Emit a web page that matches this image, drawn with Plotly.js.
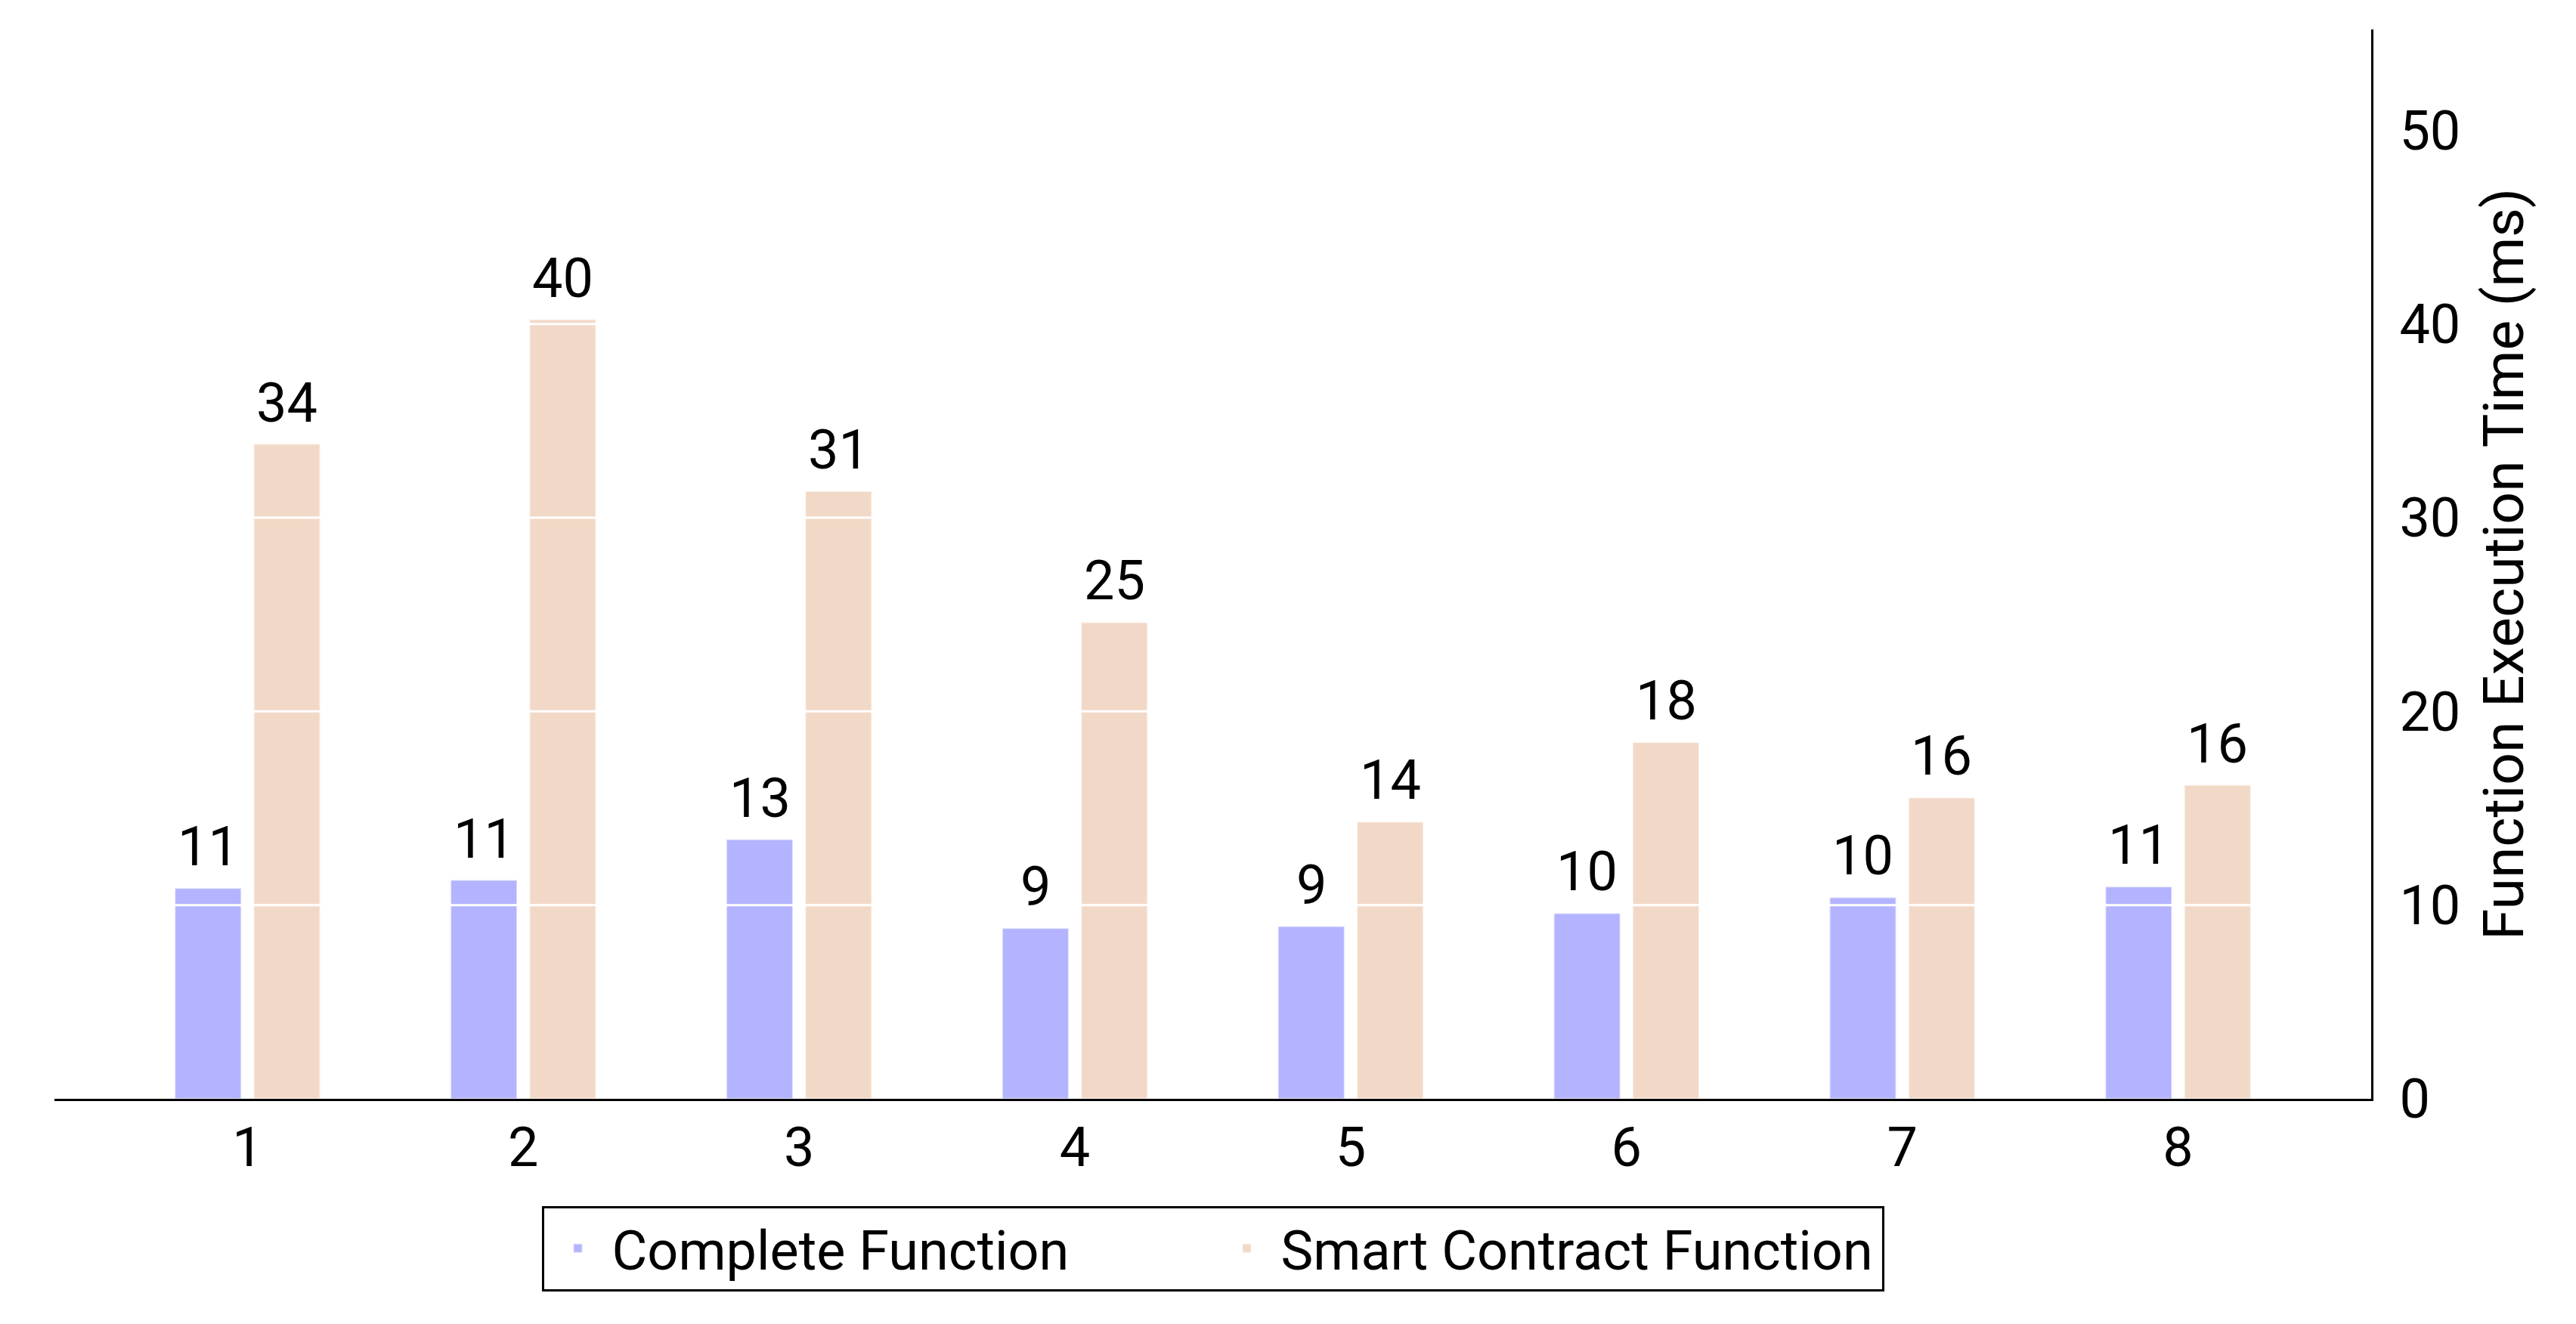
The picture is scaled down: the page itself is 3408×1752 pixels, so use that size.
<!DOCTYPE html>
<html>
<head>
<meta charset="utf-8">
<script src="https://cdn.plot.ly/plotly-3.0.1.min.js"></script>
<style>html,body{margin:0;padding:0;background:#fff;}#chart{width:3408px;height:1752px;}</style>
</head>
<body>
<div id="chart"></div>
<script>
const categories = [1, 2, 3, 4, 5, 6, 7, 8];
const completeFunction = [10.87, 11.29, 13.39, 8.81, 8.9, 9.58, 10.4, 10.95];
const smartContractFunction = [33.8, 40.23, 31.36, 24.6, 14.3, 18.4, 15.55, 16.2];
const yTickVals = [0, 10, 20, 30, 40, 50];
const seriesNames = ['Complete Function', 'Smart Contract Function'];

const FONT = 'Roboto, Lato, sans-serif';
const FS = 72;
const barW = 0.241;
const offsets = [-0.2635, 0.0225];
const colors = ['#b3b3ff', '#f2d9c7'];
const series = [completeFunction, smartContractFunction];

const traces = series.map((vals, i) => ({
  type: 'bar', name: seriesNames[i], x: categories, y: vals,
  width: barW, offset: offsets[i],
  marker: {color: colors[i], line: {color: 'rgba(255,255,255,0.6)', width: 2}},
  hoverinfo: 'none'
}));

// value labels drawn as annotations so they sit above the white grid lines
const labels = [];
series.forEach((vals, i) => {
  vals.forEach((v, j) => {
    labels.push({
      xref: 'x', yref: 'y', x: categories[j] + offsets[i] + barW / 2, y: v,
      text: String(Math.round(v)), showarrow: false,
      xanchor: 'center', yanchor: 'bottom', yshift: 10,
      font: {family: FONT, size: FS, color: '#000'}
    });
  });
});

const gridShapes = yTickVals.filter(v => v > 0).map(v => ({
  type: 'line', layer: 'above', xref: 'paper', yref: 'y',
  x0: 0, x1: 1, y0: v, y1: v,
  line: {color: '#ffffff', width: 3}
}));

const layout = {
  width: 3408, height: 1752,
  margin: {l: 72, r: 271, t: 39, b: 298},
  paper_bgcolor: '#fff', plot_bgcolor: '#fff',
  font: {family: FONT, size: FS, color: '#000'},
  showlegend: true,
  barmode: 'overlay',
  xaxis: {
    range: [0.3, 8.7], tickvals: categories, ticktext: categories.map(String),
    showgrid: false, zeroline: false, showline: true, linecolor: '#000', linewidth: 3,
    ticks: '', ticklabelstandoff: 0,
    tickfont: {family: FONT, size: FS, color: '#000'}
  },
  yaxis: {
    side: 'right', range: [0, 55.2], tickvals: yTickVals, ticktext: yTickVals.map(String),
    showgrid: false, zeroline: false, showline: true, linecolor: '#000', linewidth: 3,
    ticks: '', ticklabelstandoff: 20,
    tickfont: {family: FONT, size: FS, color: '#000'},
    title: {text: 'Function Execution Time (ms)', font: {family: FONT, size: 75, color: '#000'}, standoff: 32}
  },
  legend: {
    orientation: 'h', x: 0.5, xanchor: 'center', y: -0.1, yanchor: 'top',
    bordercolor: '#000', borderwidth: 3, bgcolor: '#fff',
    font: {family: FONT, size: FS, color: '#000'},
    itemwidth: 80, entrywidth: 790, entrywidthmode: 'pixels', tracegroupgap: 0
  },
  shapes: gridShapes,
  annotations: labels
};

Plotly.newPlot('chart', traces, layout, {displayModeBar: false, staticPlot: true});
</script>
</body>
</html>
